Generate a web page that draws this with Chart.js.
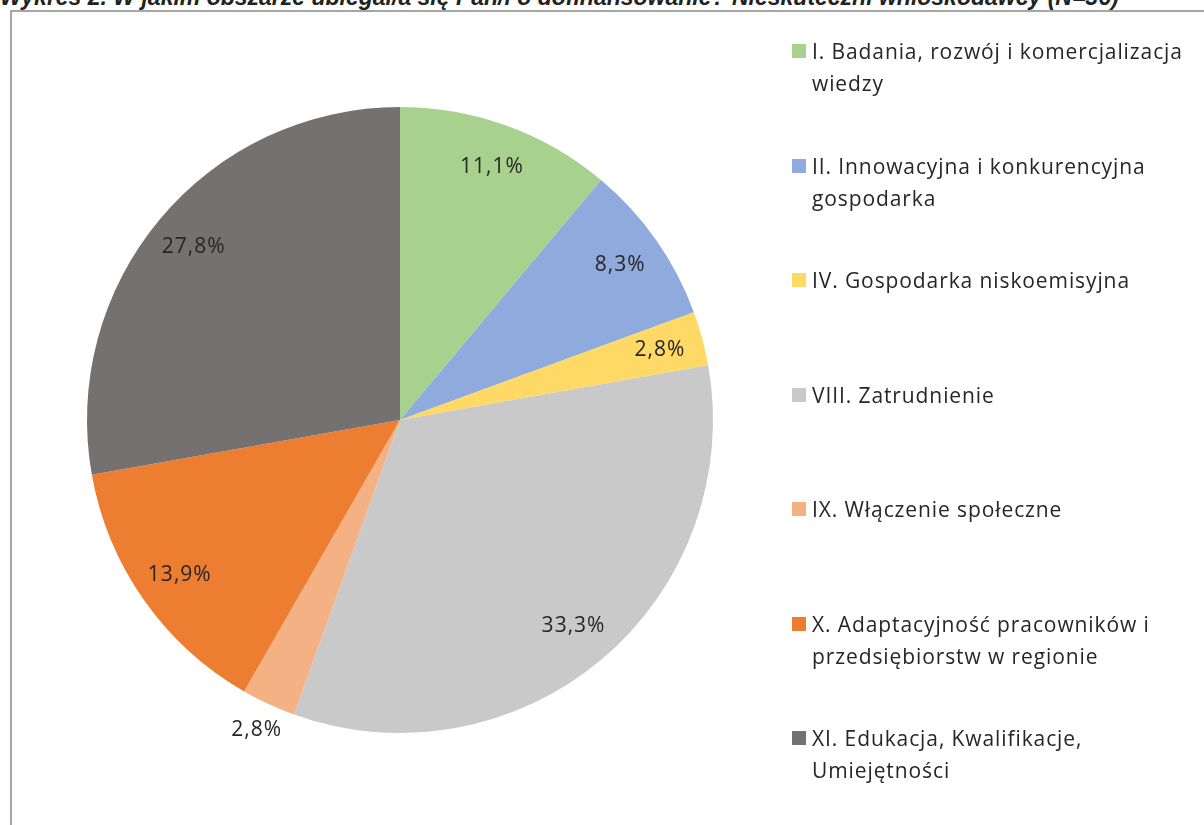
<!DOCTYPE html>
<html>
<head>
<meta charset="utf-8">
<script src="https://cdn.jsdelivr.net/npm/chart.js@4/dist/chart.umd.min.js"></script>
<style>
  html, body { margin:0; padding:0; background:#fff; width:1204px; height:825px; overflow:hidden; font-family: "Open Sans", Lato, sans-serif; }
  #title { position:absolute; left:0; top:-13px; font-size:23px; line-height:20px; font-style:italic; font-weight:bold; color:#222; white-space:nowrap; font-family:"Liberation Sans", Arial, sans-serif; }
  #frame { position:absolute; left:10px; top:10px; width:1300px; height:900px; border-left:2px solid #a6a6a6; border-top:2px solid #a6a6a6; }
  #wrap { position:absolute; left:0; top:0; width:800px; height:825px; }
  #legend { position:absolute; left:792px; top:35px; width:412px; }
  .item { position:absolute; left:0; font-size:21px; letter-spacing:0.9px; line-height:32px; color:#262626; }
  .sw { position:absolute; left:0; top:9px; width:14px; height:14px; }
  .txt { position:absolute; left:20px; top:0; width:392px; white-space:nowrap; }
</style>
</head>
<body>
<div id="title">Wykres 2. W jakim obszarze ubiegał/a się Pan/i o dofinansowanie? Nieskuteczni wnioskodawcy (N=36)</div>
<div id="frame"></div>
<div id="wrap"><canvas id="c" width="800" height="825"></canvas></div>
<div id="legend"></div>
<script>
const categories = [
  ["I. Badania, rozwój i komercjalizacja", "wiedzy"],
  ["II. Innowacyjna i konkurencyjna", "gospodarka"],
  ["IV. Gospodarka niskoemisyjna"],
  ["VIII. Zatrudnienie"],
  ["IX. Włączenie społeczne"],
  ["X. Adaptacyjność pracowników i", "przedsiębiorstw w regionie"],
  ["XI. Edukacja, Kwalifikacje,", "Umiejętności"]
];
const values = [11.1, 8.3, 2.8, 33.3, 2.8, 13.9, 27.8];
const colors = ["#A9D18E", "#8FAADC", "#FFD966", "#C9C9C9", "#F4B183", "#ED7D31", "#767171"];

// HTML legend
const legend = document.getElementById('legend');
categories.forEach((lines, i) => {
  const it = document.createElement('div');
  it.className = 'item';
  it.style.top = (i * 114.5) + 'px';
  const sw = document.createElement('div');
  sw.className = 'sw';
  sw.style.background = colors[i];
  const tx = document.createElement('div');
  tx.className = 'txt';
  tx.innerHTML = lines.map(l => l.replace(/&/g,'&amp;')).join('<br>');
  it.appendChild(sw); it.appendChild(tx);
  legend.appendChild(it);
});

const labelPlugin = {
  id: 'pctLabels',
  afterDatasetsDraw(chart, args, opts) {
    const ctx = chart.ctx;
    const meta = chart.getDatasetMeta(0);
    ctx.save();
    ctx.font = '21px "Open Sans", Lato, sans-serif';
    if ('letterSpacing' in ctx) ctx.letterSpacing = '1px';
    ctx.fillStyle = '#262626';
    ctx.textAlign = 'center';
    ctx.textBaseline = 'middle';
    meta.data.forEach((arc, i) => {
      const p = arc.getProps(['x','y','startAngle','endAngle','outerRadius'], true);
      const mid = (p.startAngle + p.endAngle) / 2;
      const f = opts.outside.includes(i) ? 1.09 : 0.86;
      const r = p.outerRadius * f;
      const x = p.x + Math.cos(mid) * r;
      const y = p.y + Math.sin(mid) * r;
      ctx.fillText(values[i].toFixed(1).replace('.', ',') + '%', x, y);
    });
    ctx.restore();
  }
};

new Chart(document.getElementById('c'), {
  type: 'pie',
  data: {
    labels: categories.map(l => l.join(' ')),
    datasets: [{ data: values, backgroundColor: colors, borderWidth: 0 }]
  },
  options: {
    responsive: false,
    animation: false,
    layout: { padding: { left: 87, right: 87, top: 107, bottom: 92 } },
    plugins: {
      legend: { display: false },
      tooltip: { enabled: false },
      pctLabels: { outside: [4] }
    }
  },
  plugins: [labelPlugin]
});
</script>
</body>
</html>
